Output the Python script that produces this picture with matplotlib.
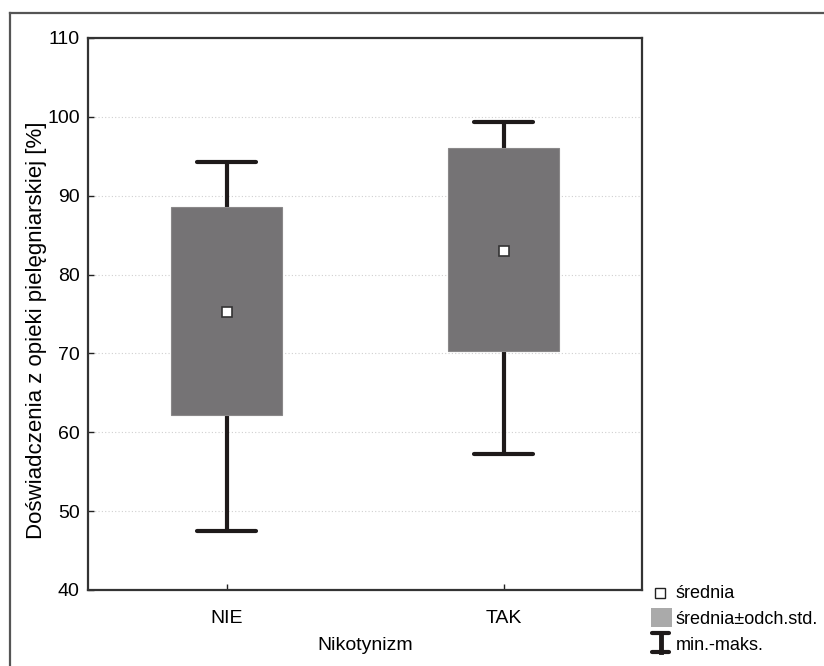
# -*- coding: utf-8 -*-

# Box chart: mean, mean +/- SD, min-max
import numpy as np
import matplotlib.pyplot as plt
from matplotlib.lines import Line2D
from matplotlib.patches import Rectangle

plt.rcParams['font.family'] = ['Liberation Sans', 'DejaVu Sans']

# Data
groups = ['NIE', 'TAK']
means = [75.2, 83.0]
sd_low = [62.2, 70.3]
sd_high = [88.6, 96.0]
mins = [47.5, 57.2]
maxs = [94.3, 99.3]

W, H = 824, 666
fig = plt.figure(figsize=(W / 100, H / 100), dpi=100)
ax = fig.add_axes([88 / W, 1 - 590 / H, 554 / W, 552 / H])

x = np.arange(len(groups))
box_col = '#757375'
line_col = '#1e1a1a'

# grid
for v in range(50, 110, 10):
    ax.axhline(v, color='#d0d0d0', linestyle=(0, (1, 2)), linewidth=0.8, zorder=0)

# whiskers
ax.vlines(x, mins, sd_low, color=line_col, linewidth=3, zorder=1)
ax.vlines(x, sd_high, maxs, color=line_col, linewidth=3, zorder=1)
ax.hlines(mins, x - 0.107, x + 0.107, color=line_col, linewidth=3, capstyle='round', zorder=1)
ax.hlines(maxs, x - 0.107, x + 0.107, color=line_col, linewidth=3, capstyle='round', zorder=1)

# boxes
heights = np.array(sd_high) - np.array(sd_low)
ax.bar(x, heights, bottom=sd_low, width=0.4, color=box_col, edgecolor='#8a8889',
       linewidth=0.8, zorder=2)

# means
ax.plot(x, means, 's', markersize=7, markerfacecolor='white', markeredgecolor='#333333',
        markeredgewidth=1.2, linestyle='none', zorder=3)

ax.set_xlim(-0.5, 1.5)
ax.set_ylim(40, 110)
ax.set_yticks(range(40, 111, 10))
ax.set_xticks(x)
ax.set_xticklabels(groups)
ax.tick_params(axis='both', direction='in', length=4, width=1, labelsize=14, color='#222222')
ax.tick_params(axis='y', pad=6)
ax.tick_params(axis='x', pad=14.5)
for s in ax.spines.values():
    s.set_linewidth(1.6)
    s.set_color('#333333')

ax.set_ylabel('Doświadczenia z opieki pielęgniarskiej [%]', fontsize=16)
ax.yaxis.set_label_coords(-0.074, 0.47)
ax.set_xlabel('Nikotynizm', fontsize=14)
ax.xaxis.set_label_coords(0.5, -0.085)

# outer frame
fig.add_artist(Line2D([10 / W, 10 / W], [0, 1 - 13 / H], color='#555555', linewidth=1.6))
fig.add_artist(Line2D([10 / W, 1], [1 - 13 / H, 1 - 13 / H], color='#555555', linewidth=1.6))

# legend (drawn by hand, outside the axes)
def fx(px):
    return px / W

def fy(py):
    return 1 - py / H

fig.add_artist(Line2D([fx(660)], [fy(593)], marker='s', markersize=6.5, markerfacecolor='white',
                      markeredgecolor='#222222', markeredgewidth=1.0, linestyle='none'))
fig.add_artist(Rectangle((fx(651), fy(627)), 21 / W, 19 / H, facecolor='#aaaaaa',
                         edgecolor='none', transform=fig.transFigure))
fig.add_artist(Line2D([fx(660.5), fx(660.5)], [fy(633), fy(652)], color=line_col, linewidth=3.5))
fig.add_artist(Line2D([fx(652), fx(669)], [fy(633), fy(633)], color=line_col, linewidth=3,
                      solid_capstyle='round'))
fig.add_artist(Line2D([fx(652), fx(669)], [fy(652), fy(652)], color=line_col, linewidth=3,
                      solid_capstyle='round'))

legend_labels = ['średnia', 'średnia±odch.std.', 'min.-maks.']
for lab, py in zip(legend_labels, [593, 620, 646]):
    fig.text(fx(676), fy(py), lab, fontsize=13, va='center', ha='left')

fig.savefig('out.png', dpi=100)
